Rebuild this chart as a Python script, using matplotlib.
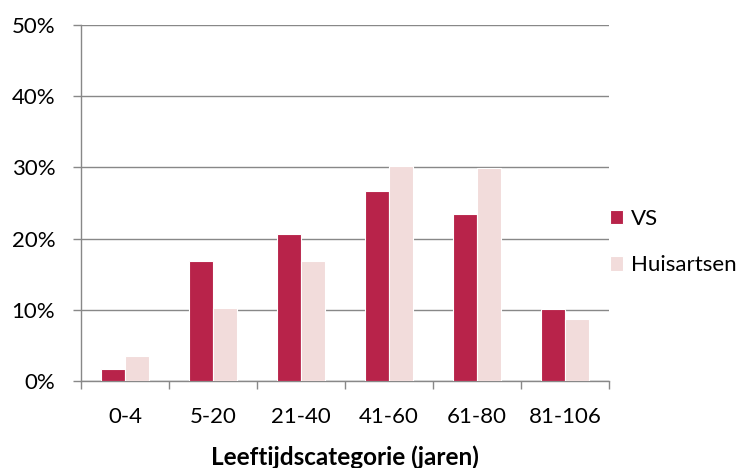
import matplotlib
matplotlib.use("Agg")
import matplotlib.pyplot as plt
import numpy as np

categories = ["0-4", "5-20", "21-40", "41-60", "61-80", "81-106"]
vs = [1.65, 16.8, 20.6, 26.7, 23.5, 10.05]
huisartsen = [3.45, 10.25, 16.9, 30.2, 29.9, 8.65]
yticks = [0, 10, 20, 30, 40, 50]
xlabel = "Leeftijdscategorie (jaren)"

plt.rcParams['font.family'] = ['Lato', 'DejaVu Sans']
FS = 16

fig = plt.figure(figsize=(7.48, 4.68), dpi=100)
ax = fig.add_axes([81/748, 1-381/468, (609-81)/748, (381-25)/468])

x = np.arange(len(categories))
w = 0.275
ax.bar(x - w/2, vs, w, color="#B8234A", edgecolor="white", linewidth=0.8, label="VS", zorder=3)
ax.bar(x + w/2, huisartsen, w, color="#F2DCDB", edgecolor="white", linewidth=0.8, label="Huisartsen", zorder=3)

ax.set_xlim(-0.5, len(categories) - 0.5)
ax.set_ylim(0, 50)
ax.set_yticks(yticks)
ax.set_yticklabels([f"{v}%" for v in yticks], fontsize=FS)
ax.set_xticks(x)
ax.set_xticklabels(categories, fontsize=FS)
ax.set_xticks(np.arange(-0.5, len(categories)), minor=True)
ax.tick_params(axis='x', which='major', length=0, pad=18.5)
ax.tick_params(axis='x', which='minor', length=5.5, color="#888888", width=1)
ax.tick_params(axis='y', length=5.5, color="#888888", width=1, pad=13)
ax.grid(axis='y', color="#888888", linewidth=1, zorder=0)
for s in ['top', 'right']:
    ax.spines[s].set_visible(False)
for s in ['left', 'bottom']:
    ax.spines[s].set_color("#888888")
    ax.spines[s].set_linewidth(1)
ax.set_axisbelow(True)

ax.set_xlabel(xlabel, fontsize=17.5, fontweight='bold')
ax.xaxis.set_label_coords(0.5, (381-445)/356)

leg = fig.legend(loc='center left', bbox_to_anchor=(610/748, 1-242/468), frameon=False,
                 fontsize=FS, handlelength=0.6, handleheight=0.6, labelspacing=1.2,
                 handletextpad=0.35, borderaxespad=0.0, borderpad=0.0)

fig.savefig("out.png", dpi=100)
